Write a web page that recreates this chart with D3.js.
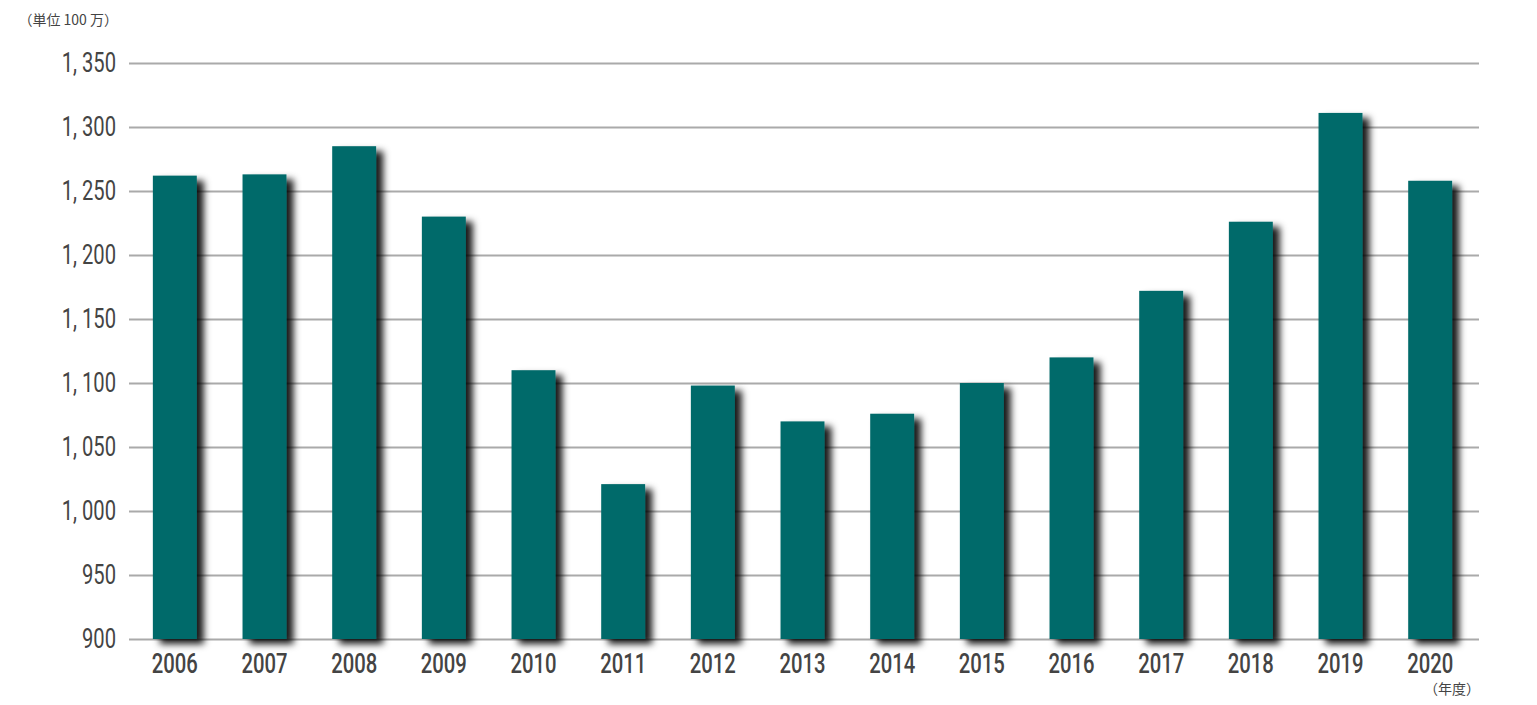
<!DOCTYPE html>
<html><head><meta charset="utf-8">
<script src="https://cdn.jsdelivr.net/npm/d3@7"></script>
<style>body{margin:0;background:#fff;}svg{display:block;}</style>
</head><body>
<script>
const years = ["2006","2007","2008","2009","2010","2011","2012","2013","2014","2015","2016","2017","2018","2019","2020"];
const values = [1262,1263,1285,1230,1110,1021,1098,1070,1076,1100,1120,1172,1226,1311,1258];
const yTicks = [900,950,1000,1050,1100,1150,1200,1250,1300,1350];
const unitLabel = "（単位 100 万）";
const xUnitLabel = "（年度）";

const W=1537,H=705;
const svg=d3.select("body").append("svg").attr("width",W).attr("height",H);
const defs=svg.append("defs");
const f=defs.append("filter").attr("id","sh").attr("x","-20%").attr("y","-20%").attr("width","180%").attr("height","150%");
f.append("feDropShadow").attr("dx",7).attr("dy",5).attr("stdDeviation",3.8).attr("flood-color","#000").attr("flood-opacity",0.9);

const x=d3.scaleBand().domain(years).range([130,1475]).paddingInner(0.51).paddingOuter(0.255);
const y=d3.scaleLinear().domain([900,1350]).range([639,63]);
const font="Roboto,'DejaVu Sans',sans-serif";

function condense(sel,factor){
  sel.each(function(){
    const w=this.getComputedTextLength();
    d3.select(this).attr("textLength",w*factor).attr("lengthAdjust","spacingAndGlyphs");
  });
}

const ga=svg.append("g").attr("transform","translate(129,0)")
  .call(d3.axisLeft(y).tickValues(yTicks).tickSize(-1350).tickPadding(13).tickFormat(d=>d3.format(",")(d).replace(",",", ")));
ga.select(".domain").remove();
ga.selectAll(".tick line").attr("stroke","#aaa").attr("stroke-width",2);
const yt=ga.selectAll(".tick text").attr("fill","#444").style("font-family",font).style("font-size","28px").attr("x",-13).attr("dy","0.3em");
condense(yt,0.72);

svg.append("g").selectAll("rect").data(values).join("rect")
  .attr("x",(d,i)=>x(years[i])).attr("width",x.bandwidth())
  .attr("y",d=>y(d)).attr("height",d=>y(900)-y(d))
  .attr("fill","#016a6a").attr("filter","url(#sh)");

const gx=svg.append("g").attr("transform","translate(0,639)")
  .call(d3.axisBottom(x).tickSize(0).tickPadding(0));
gx.select(".domain").remove();
const xt=gx.selectAll(".tick text").attr("fill","#444").style("font-family",font).style("font-size","27px").style("font-weight","500").attr("y",34).attr("dy",0);
condense(xt,0.75);

svg.append("text").attr("x",118).attr("y",25).attr("text-anchor","end").attr("fill","#444")
  .style("font-family","'Noto Sans CJK JP',sans-serif").style("font-size","14px").text(unitLabel);
svg.append("text").attr("x",1480).attr("y",694).attr("text-anchor","end").attr("fill","#444")
  .style("font-family","'Noto Sans CJK JP',sans-serif").style("font-size","14px").text(xUnitLabel);
</script>
</body></html>
